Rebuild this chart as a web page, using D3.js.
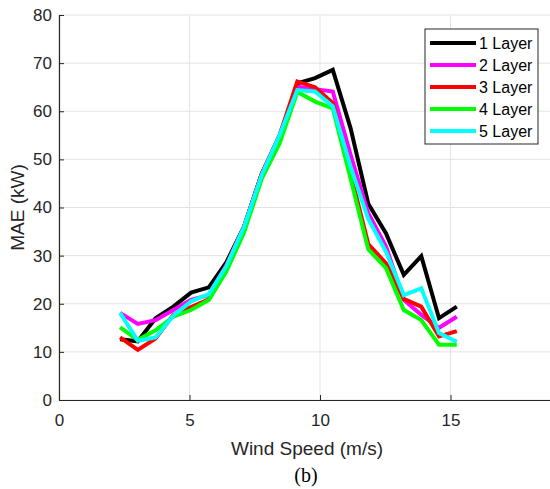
<!DOCTYPE html>
<html>
<head>
<meta charset="utf-8">
<script src="https://cdn.jsdelivr.net/npm/d3@7"></script>
<style>
  html, body { margin: 0; padding: 0; background: #fff; }
  svg { display: block; }
</style>
</head>
<body>
<svg id="chart" width="550" height="489"></svg>
<script>
const windSpeed = [2.34, 3.02, 3.70, 4.38, 5.06, 5.74, 6.41, 7.09, 7.77, 8.45,
                   9.13, 9.81, 10.49, 11.17, 11.85, 12.53, 13.21, 13.88, 14.56, 15.24];
const layer1 = [12.6, 12.2, 17.0, 19.4, 22.3, 23.4, 28.6, 36.0, 47.0, 54.5,
                65.8, 66.9, 68.6, 56.5, 40.8, 34.6, 26.0, 29.9, 17.0, 19.4];
const layer2 = [18.1, 15.8, 16.6, 18.7, 20.8, 21.8, 28.0, 36.0, 47.0, 55.0,
                65.1, 64.6, 64.1, 51.0, 38.8, 31.9, 20.8, 17.7, 15.0, 17.3];
const layer3 = [13.0, 10.4, 12.8, 17.7, 19.3, 20.9, 28.0, 36.0, 47.0, 55.0,
                66.2, 65.0, 61.7, 47.0, 32.4, 28.4, 21.0, 19.4, 13.2, 14.3];
const layer4 = [15.1, 12.5, 14.5, 17.3, 18.7, 20.8, 26.7, 34.8, 46.0, 53.3,
                64.0, 62.0, 60.6, 46.0, 31.3, 27.4, 18.7, 16.6, 11.5, 11.5];
const layer5 = [18.1, 12.3, 13.0, 17.5, 20.5, 22.0, 27.8, 36.0, 46.8, 55.0,
                64.4, 64.1, 61.0, 48.5, 37.6, 30.8, 21.8, 23.2, 13.9, 12.1];
const seriesNames = ["1 Layer", "2 Layer", "3 Layer", "4 Layer", "5 Layer"];
const seriesColors = ["#000000", "#ff00ff", "#ff0000", "#00ff00", "#00ffff"];
const xTicks = [0, 5, 10, 15];
const yTicks = [0, 10, 20, 30, 40, 50, 60, 70, 80];

const allSeries = [layer1, layer2, layer3, layer4, layer5];

const svg = d3.select("#chart");
const x = d3.scaleLinear().domain([0, 20]).range([59, 581]);
const y = d3.scaleLinear().domain([0, 80]).range([400, 15]);
const font = "'Liberation Sans', Arial, Helvetica, sans-serif";
const axisColor = "#262626";

// grid
svg.append("g").selectAll("line.gy").data(yTicks).join("line")
  .attr("x1", x(0)).attr("x2", 550)
  .attr("y1", d => y(d)).attr("y2", d => y(d))
  .attr("stroke", "#e3e3e3").attr("stroke-width", 1);
svg.append("g").selectAll("line.gx").data(xTicks).join("line")
  .attr("x1", d => x(d)).attr("x2", d => x(d))
  .attr("y1", y(0)).attr("y2", y(80))
  .attr("stroke", "#e3e3e3").attr("stroke-width", 1);

// axes
const xAxis = d3.axisBottom(x).tickValues(xTicks).tickSizeInner(-5).tickSizeOuter(0).tickPadding(14);
const gx = svg.append("g").attr("transform", `translate(0,${y(0)})`).call(xAxis);
const yAxis = d3.axisLeft(y).tickValues(yTicks).tickSizeInner(-5).tickSizeOuter(0).tickPadding(7);
const gy = svg.append("g").attr("transform", `translate(${x(0)},0)`).call(yAxis);
[gx, gy].forEach(g => {
  g.select(".domain").attr("stroke", axisColor).attr("stroke-width", 1.2);
  g.selectAll(".tick line").attr("stroke", axisColor);
  g.selectAll(".tick text").attr("fill", axisColor)
    .style("font-family", font).style("font-size", "17px");
});

// lines
const line = d3.line().x((d, i) => x(windSpeed[i])).y(d => y(d));
svg.append("g").selectAll("path.s").data(allSeries).join("path")
  .attr("d", d => line(d))
  .attr("fill", "none")
  .attr("stroke", (d, i) => seriesColors[i])
  .attr("stroke-width", 4)
  .attr("stroke-linejoin", "miter");

// axis labels
svg.append("text").attr("x", 307).attr("y", 455)
  .attr("text-anchor", "middle").attr("fill", axisColor)
  .style("font-family", font).style("font-size", "19px")
  .text("Wind Speed (m/s)");
svg.append("text")
  .attr("transform", `translate(24,${(y(0) + y(80)) / 2}) rotate(-90)`)
  .attr("text-anchor", "middle").attr("fill", axisColor)
  .style("font-family", font).style("font-size", "19px")
  .text("MAE (kW)");
svg.append("text").attr("x", 306).attr("y", 482)
  .attr("text-anchor", "middle").attr("fill", "#000")
  .style("font-family", "'Liberation Serif', 'Times New Roman', serif").style("font-size", "20px")
  .text("(b)");

// legend
const lg = svg.append("g");
lg.append("rect").attr("x", 425).attr("y", 29).attr("width", 113).attr("height", 115)
  .attr("fill", "#fff").attr("stroke", axisColor).attr("stroke-width", 1);
seriesNames.forEach((name, i) => {
  const yy = 43 + i * 22;
  lg.append("line").attr("x1", 430).attr("x2", 476).attr("y1", yy).attr("y2", yy)
    .attr("stroke", seriesColors[i]).attr("stroke-width", 4);
  lg.append("text").attr("x", 479).attr("y", yy).attr("dy", "0.36em")
    .attr("fill", "#000").style("font-family", font).style("font-size", "16px")
    .text(name);
});
</script>
</body>
</html>
